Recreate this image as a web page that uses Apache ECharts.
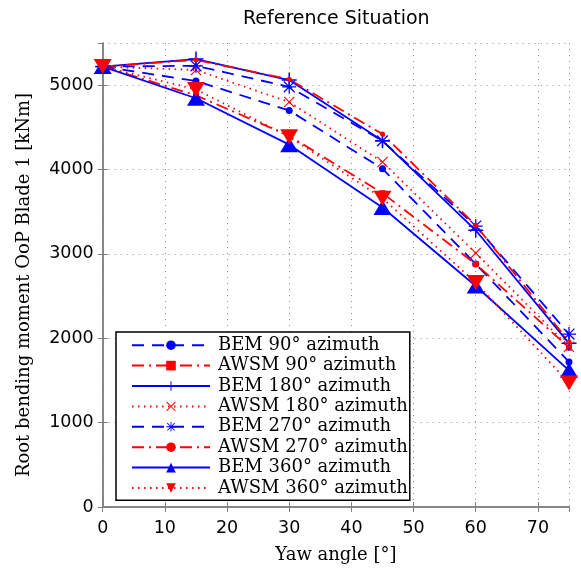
<!DOCTYPE html>
<html>
<head>
<meta charset="utf-8">
<script src="https://cdn.jsdelivr.net/npm/echarts@6/dist/echarts.min.js"></script>
<style>
  html, body { margin: 0; padding: 0; background: #fff; }
  #chart { width: 581px; height: 569px; }
</style>
</head>
<body>
<div id="chart"></div>
<script>
// Yaw angles [deg] at which the root bending moment was evaluated
const yawAngles = [0, 15, 30, 45, 60, 75];

// Root bending moment, out-of-plane, blade 1 [kNm]
const bem90   = [5220, 5050, 4700, 4010, 2880, 1720];
const awsm90  = [5220, 4880, 4400, 3720, 2880, 1890];
const bem180  = [5220, 5310, 5060, 4340, 3280, 1940];
const awsm180 = [5220, 5180, 4800, 4090, 3010, 1900];
const bem270  = [5220, 5230, 4980, 4340, 3330, 2050];
const awsm270 = [5220, 5300, 5070, 4420, 3340, 1960];
const bem360  = [5220, 4845, 4295, 3550, 2620, 1620];
const awsm360 = [5220, 4950, 4390, 3660, 2660, 1470];

const seriesNames = [
  'BEM 90° azimuth', 'AWSM 90° azimuth',
  'BEM 180° azimuth', 'AWSM 180° azimuth',
  'BEM 270° azimuth', 'AWSM 270° azimuth',
  'BEM 360° azimuth', 'AWSM 360° azimuth'
];
const seriesValues = [bem90, awsm90, bem180, awsm180, bem270, awsm270, bem360, awsm360];

// Axis ticks
const xTicks = { min: 0, max: 75, step: 10 };
const yTicks = { min: 0, max: 5500, step: 1000 };

// Stroke-like marker shapes, drawn as thin filled outlines
const PLUS = 'path://M0 9H20V11H0Z M9 0H11V20H9Z';
const CROSS = 'path://M1.4 0L10 8.6L18.6 0L20 1.4L11.4 10L20 18.6L18.6 20L10 11.4L1.4 20L0 18.6L8.6 10L0 1.4Z';
const STAR = 'path://M0 9.1H20V10.9H0Z M9.1 0H10.9V20H9.1Z ' +
  'M2.9 1.6L10 8.7L17.1 1.6L18.4 2.9L11.3 10L18.4 17.1L17.1 18.4L10 11.3L2.9 18.4L1.6 17.1L8.7 10L1.6 2.9Z';

const BLUE = '#0000ff', RED = '#ff0000';
const DASHED = [12, 8];
const DASHDOT = [12, 5, 2, 5];
const DOTTED = [1.5, 4.5];

const looks = [
  { color: BLUE, line: DASHED,  symbol: 'circle',   size: 7 },
  { color: RED,  line: DASHDOT, symbol: 'rect',     size: 6 },
  { color: BLUE, line: 'solid', symbol: PLUS,       size: 15 },
  { color: RED,  line: DOTTED,  symbol: CROSS,      size: 11 },
  { color: BLUE, line: DASHED,  symbol: STAR,       size: 14 },
  { color: RED,  line: DASHDOT, symbol: 'circle',   size: 5 },
  { color: BLUE, line: 'solid', symbol: 'triangle', size: [18, 15] },
  { color: RED,  line: DOTTED,  symbol: 'triangle', size: [18, 15], rotate: 180 }
];

const series = seriesNames.map((name, k) => ({
  name,
  type: 'line',
  data: yawAngles.map((x, i) => [x, seriesValues[k][i]]),
  symbol: looks[k].symbol,
  symbolSize: looks[k].size,
  symbolRotate: looks[k].rotate || 0,
  symbolKeepAspect: false,
  showSymbol: true,
  showAllSymbol: true,
  lineStyle: { color: looks[k].color, width: 1.8, type: looks[k].line },
  itemStyle: { color: looks[k].color, borderWidth: 0 },
  emphasis: { disabled: true },
  silent: true,
  z: 2
}));

const sansLabel = { fontFamily: 'DejaVu Sans', fontSize: 17.5, color: '#000' };
const serifName = { fontFamily: 'DejaVu Serif', fontSize: 18, color: '#000' };
const frame = { show: true, lineStyle: { color: '#808080', width: 1.5 } };
const inTicks = { show: true, inside: true, length: 5, lineStyle: { color: '#808080', width: 1 } };
const dotGrid = { show: true, lineStyle: { color: '#8c8c8c', width: 1, type: [1, 5] } };
const plainNumber = v => String(v);

const chart = echarts.init(document.getElementById('chart'), null, { renderer: 'canvas' });
chart.setOption({
  animation: false,
  backgroundColor: '#fff',
  title: {
    text: 'Reference Situation',
    left: 243, top: 10, padding: 0,
    textStyle: { fontFamily: 'DejaVu Sans', fontSize: 19, fontWeight: 'normal', color: '#000' }
  },
  grid: { left: 102.7, right: 12, top: 43, bottom: 60.7, containLabel: false },
  legend: {
    orient: 'vertical',
    left: 116, top: 332,
    padding: [3, 2, 2, 15],
    backgroundColor: '#fff',
    borderColor: '#000', borderWidth: 1.5, borderRadius: 0,
    itemWidth: 78, itemHeight: 12, itemGap: 0,
    selectedMode: false,
    textStyle: { fontFamily: 'DejaVu Serif', fontSize: 18, lineHeight: 20.4, color: '#000', padding: [0, 0, 0, 3] },
    data: seriesNames
  },
  xAxis: [
    {
      type: 'value', position: 'bottom',
      min: xTicks.min, max: xTicks.max, interval: xTicks.step,
      name: 'Yaw angle [°]', nameLocation: 'middle', nameGap: 39,
      nameTextStyle: serifName,
      axisLine: frame, axisTick: inTicks,
      axisLabel: Object.assign({ margin: 12, showMaxLabel: false, formatter: plainNumber }, sansLabel),
      splitLine: dotGrid
    },
    {
      type: 'value', position: 'top',
      min: xTicks.min, max: xTicks.max, interval: xTicks.step,
      axisLine: frame, axisTick: inTicks,
      axisLabel: { show: false }, splitLine: { show: false }
    }
  ],
  yAxis: [
    {
      type: 'value', position: 'left',
      min: yTicks.min, max: yTicks.max, interval: yTicks.step,
      name: 'Root bending moment OoP Blade 1 [kNm]', nameLocation: 'middle', nameGap: 69,
      nameTextStyle: Object.assign({ padding: [0, 20, 0, 0] }, serifName),
      axisLine: frame, axisTick: inTicks,
      axisLabel: Object.assign({ margin: 9, showMaxLabel: false, formatter: plainNumber }, sansLabel),
      splitLine: dotGrid
    },
    {
      type: 'value', position: 'right',
      min: yTicks.min, max: yTicks.max, interval: yTicks.step,
      axisLine: frame, axisTick: inTicks,
      axisLabel: { show: false }, splitLine: { show: false }
    }
  ],
  series
});
</script>
</body>
</html>
